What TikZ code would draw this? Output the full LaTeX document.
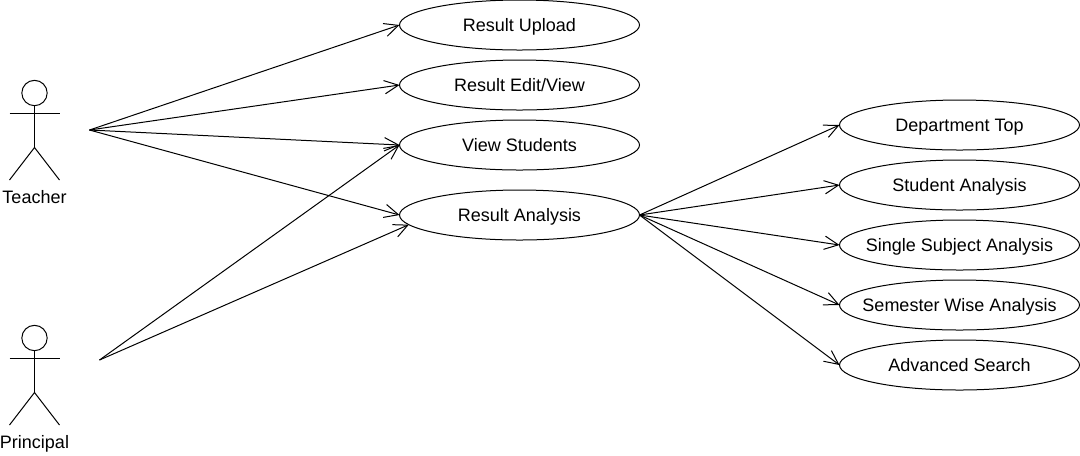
\documentclass[tikz,border=0pt]{standalone}
\usepackage{fontspec}
\setmainfont{Liberation Sans}
\usetikzlibrary{arrows.meta,shapes.geometric}
\newcommand{\uctext}[1]{\makebox[0pt]{#1}}
\tikzset{
  usecase/.style={ellipse,draw=black,line width=0.75pt,fill=white,minimum width=180pt,minimum height=37.5pt,inner sep=0pt,outer sep=0pt,font=\fontsize{13.5}{16}\selectfont,text=black,text height=11.2pt,text depth=1.4pt},
  actorhead/.style={circle,draw=black,line width=0.75pt,minimum size=19pt,inner sep=0pt,outer sep=0pt},
  actorlabel/.style={inner sep=0pt,font=\fontsize{13.5}{16}\selectfont,text=black,text height=11.2pt,text depth=1.4pt},
  actorline/.style={draw=black,line width=0.75pt},
  assoc/.style={draw=black,line width=0.75pt,-{Straight Barb[length=10.5pt,width=10pt,line width=0.75pt]}}
}
\begin{document}
\begin{tikzpicture}[x=0.75pt,y=-0.75pt]
\useasboundingbox (0,0) rectangle (1080,455);
% use cases
\node[usecase] (upload) at (519.5,25) {\uctext{Result Upload}};
\node[usecase] (edit) at (519.5,85) {\uctext{Result Edit/View}};
\node[usecase] (view) at (519.5,145) {\uctext{View Students}};
\node[usecase] (analysis) at (519.5,215) {\uctext{Result Analysis}};
\node[usecase] (dept) at (959.5,125) {\uctext{Department Top}};
\node[usecase] (student) at (959.5,185) {\uctext{Student Analysis}};
\node[usecase] (single) at (959.5,245) {\uctext{Single Subject Analysis}};
\node[usecase] (semester) at (959.5,305) {\uctext{Semester Wise Analysis}};
\node[usecase] (search) at (959.5,365) {\uctext{Advanced Search}};
% teacher
\node[actorhead] (thead) at (34.5,93) {};
\coordinate (thip) at (34.5,147.5);
\coordinate (tarml) at (9.5,113.5);
\coordinate (tarmr) at (59.5,113.5);
\coordinate (tfootl) at (9.5,180);
\coordinate (tfootr) at (59.5,180);
\draw[actorline] (thead.south) -- (thip);
\draw[actorline] (tarml) -- (tarmr);
\draw[actorline] (tfootl) -- (thip) -- (tfootr);
\node[actorlabel] (tlabel) at (34.5,197) {Teacher};
\coordinate (tend) at (89.5,130);
% principal
\node[actorhead] (phead) at (34.5,338) {};
\coordinate (phip) at (34.5,392.5);
\coordinate (parml) at (9.5,358.5);
\coordinate (parmr) at (59.5,358.5);
\coordinate (pfootl) at (9.5,425);
\coordinate (pfootr) at (59.5,425);
\draw[actorline] (phead.south) -- (phip);
\draw[actorline] (parml) -- (parmr);
\draw[actorline] (pfootl) -- (phip) -- (pfootr);
\node[actorlabel] (plabel) at (34.5,442) {Principal};
\coordinate (pend) at (99.5,360);
% connectors
\draw[assoc] (tend) -- (upload.west);
\draw[assoc] (tend) -- (edit.west);
\draw[assoc] (tend) -- (view.west);
\draw[assoc] (tend) -- (analysis.west);
\draw[assoc] (pend) -- (view.west);
\draw[assoc] (pend) -- (analysis.185);
\draw[assoc] (analysis.east) -- (dept.west);
\draw[assoc] (analysis.east) -- (student.west);
\draw[assoc] (analysis.east) -- (single.west);
\draw[assoc] (analysis.east) -- (semester.west);
\draw[assoc] (analysis.east) -- (search.west);
\end{tikzpicture}
\end{document}
